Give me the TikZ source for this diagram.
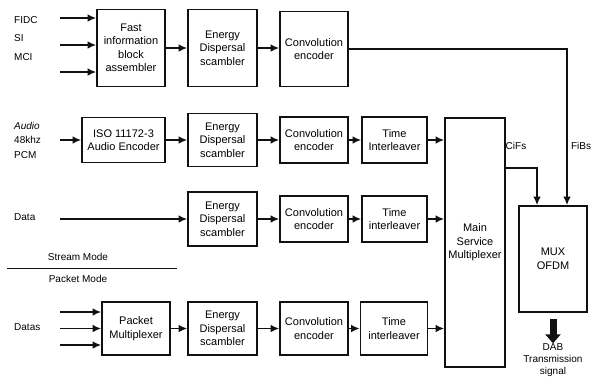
\documentclass[tikz,border=0pt]{standalone}
\usepackage{fontspec}
\setmainfont{Liberation Sans}
\usetikzlibrary{arrows.meta,positioning}
\definecolor{dabInk}{HTML}{111111}
\tikzset{
  dabBox/.style={
    draw=dabInk,
    line width=1.6pt,
    align=center,
    inner sep=1pt,
    font=\fontsize{11}{13.5}\selectfont,
    minimum width=68pt
  },
  dabArrow/.style={-{Latex[length=8.5pt,width=7.5pt]}, line width=1.5pt, dabInk},
  modeLine/.style={line width=1pt, dabInk},
  bigArrow/.style={-{Triangle[length=9pt,width=15pt]}, line width=7pt, dabInk},
  sigLabel/.style={
    font=\fontsize{10}{14.5}\selectfont,
    anchor=west,
    align=left,
    inner sep=0pt
  },
  busLabel/.style={font=\fontsize{10}{12}\selectfont, align=center, inner sep=0pt}
}

\begin{document}
\begin{tikzpicture}[x=1pt,y=-1pt]
  \useasboundingbox (0,0) rectangle (597,376);

  % FIC branch
  \node[dabBox, minimum height=77pt] (fib) at (131,48)
    {Fast\\information\\block\\assembler};
  \node[dabBox, minimum height=77pt, minimum width=69pt] (ed1) at (222.5,48)
    {Energy\\Dispersal\\scambler};
  \node[dabBox, minimum height=75pt] (ce1) at (314,49)
    {Convolution\\encoder};

  % audio branch
  \node[dabBox, minimum height=45pt, minimum width=83pt] (iso) at (123.5,140)
    {ISO 11172-3\\Audio Encoder};
  \node[dabBox, minimum height=53pt, minimum width=69pt] (ed2) at (222.5,140)
    {Energy\\Dispersal\\scambler};
  \node[dabBox, minimum height=46pt] (ce2) at (314,140)
    {Convolution\\encoder};
  \node[dabBox, minimum height=46pt, minimum width=65pt] (ti2) at (394.5,140)
    {Time\\Interleaver};

  % stream data branch
  \node[dabBox, minimum height=54pt, minimum width=69pt] (ed3) at (222.5,219)
    {Energy\\Dispersal\\scambler};
  \node[dabBox, minimum height=46pt] (ce3) at (314,219)
    {Convolution\\encoder};
  \node[dabBox, minimum height=46pt, minimum width=65pt] (ti3) at (394.5,219)
    {Time\\interleaver};

  % packet data branch
  \node[dabBox, minimum height=53pt] (pm) at (136,328.5)
    {Packet\\Multiplexer};
  \node[dabBox, minimum height=53pt, minimum width=69pt] (ed4) at (222.5,328.5)
    {Energy\\Dispersal\\scambler};
  \node[dabBox, minimum height=53pt] (ce4) at (314,328.5)
    {Convolution\\encoder};
  \node[dabBox, minimum height=53pt, minimum width=67pt] (ti4) at (394,328.5)
    {Time\\interleaver};

  \node[dabBox, minimum height=249pt, minimum width=60pt] (msm) at (475,242.5)
    {Main\\Service\\Multiplexer};
  \node[dabBox, minimum height=106pt] (mux) at (553,259)
    {MUX\\OFDM};

  % inputs
  \node[sigLabel] (fidc) at (14,20) {FIDC};
  \node[sigLabel] (si) at (14,38) {SI};
  \node[sigLabel] (mci) at (14,57) {MCI};
  \node[sigLabel] (audio) at (14,140) {\textit{Audio}\\48khz\\PCM};
  \node[sigLabel] (data) at (14,217) {Data};
  \node[sigLabel] (datas) at (14,327) {Datas};

  \coordinate (fidcIn) at (60,18);
  \coordinate (siIn) at (60,45);
  \coordinate (mciIn) at (60,72);
  \coordinate (audioIn) at (60,140);
  \coordinate (dataIn) at (60,219);
  \coordinate (pktInA) at (60,312);
  \coordinate (pktInB) at (60,328.5);
  \coordinate (pktInC) at (60,345);

  \draw[dabArrow] (fidcIn) -- (fidcIn -| fib.west);
  \draw[dabArrow] (siIn) -- (siIn -| fib.west);
  \draw[dabArrow] (mciIn) -- (mciIn -| fib.west);
  \draw[dabArrow] (audioIn) -- (iso);
  \draw[dabArrow] (dataIn) -- (ed3);
  \draw[dabArrow] (pktInA) -- (pktInA -| pm.west);
  \draw[dabArrow] (pktInB) -- (pm);
  \draw[dabArrow] (pktInC) -- (pktInC -| pm.west);

  % chains
  \draw[dabArrow] (fib) -- (ed1);
  \draw[dabArrow] (ed1) -- (ce1.west |- ed1);
  \draw[dabArrow] (iso) -- (ed2);
  \draw[dabArrow] (ed2) -- (ce2);
  \draw[dabArrow] (ce2) -- (ti2);
  \draw[dabArrow] (ti2) -- (ti2 -| msm.west);
  \draw[dabArrow] (ed3) -- (ce3);
  \draw[dabArrow] (ce3) -- (ti3);
  \draw[dabArrow] (ti3) -- (ti3 -| msm.west);
  \draw[dabArrow] (pm) -- (ed4);
  \draw[dabArrow] (ed4) -- (ce4);
  \draw[dabArrow] (ce4) -- (ti4);
  \draw[dabArrow] (ti4) -- (ti4 -| msm.west);

  % to the multiplexer
  \draw[dabArrow] (ce1.east) -| ([xshift=14pt]mux.north);
  \draw[dabArrow] ([yshift=74.5pt]msm.east) -| ([xshift=-16pt]mux.north);
  \node[busLabel] (cifs) at (516,146) {CiFs};
  \node[busLabel] (fibs) at (581,146) {FiBs};

  % stream / packet split
  \node[busLabel] (stream) at (78,257) {Stream Mode};
  \node[busLabel] (packet) at (78,279) {Packet Mode};
  \coordinate (modeL) at (7,268);
  \coordinate (modeR) at (177,268);
  \draw[modeLine] (modeL) -- (modeR);

  % output
  \node[busLabel] (dab) at (553,360)
    {DAB\\Transmission\\signal};
  \draw[bigArrow] ([yshift=-6pt]mux.south) -- (dab.north);
\end{tikzpicture}
\end{document}
